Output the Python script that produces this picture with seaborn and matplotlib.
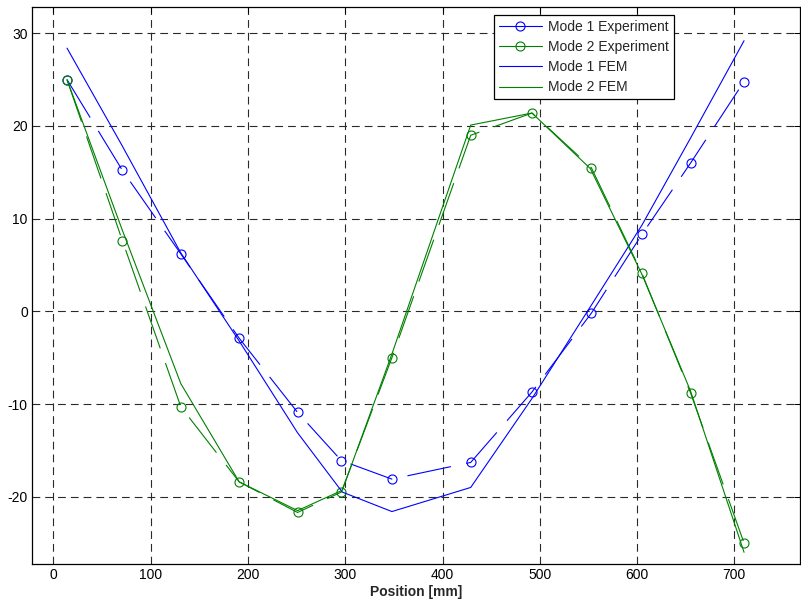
import matplotlib
matplotlib.use("Agg")
import numpy as np
import pandas as pd
import seaborn as sns
import matplotlib.pyplot as plt
from matplotlib.lines import Line2D

# ---- data ----
positions_exp = [14, 71, 131, 191, 251, 296, 348, 429, 492, 553, 605, 655, 710]
mode1_exp = [25.0, 15.2, 6.2, -2.9, -10.9, -16.1, -18.1, -16.3, -8.7, -0.2, 8.3, 16.0, 24.8]
mode2_exp = [25.0, 7.6, -10.3, -18.4, -21.7, -19.5, -5.0, 19.0, 21.4, 15.5, 4.1, -8.8, -25.0]

positions_fem = [14, 70, 131, 191, 251, 297, 348, 429, 492, 552, 605, 655, 710]
mode1_fem = [28.4, 18.0, 6.3, -3.2, -13.1, -19.5, -21.6, -19.0, -9.4, 0.5, 9.3, 18.7, 29.2]
mode2_fem = [25.0, 9.0, -7.8, -18.4, -21.5, -19.3, -4.6, 20.1, 21.4, 15.4, 4.0, -8.6, -26.0]

labels = ["Mode 1 Experiment", "Mode 2 Experiment", "Mode 1 FEM", "Mode 2 FEM"]
x_ticks = [0, 100, 200, 300, 400, 500, 600, 700]
y_ticks = [-20, -10, 0, 10, 20, 30]

sns.set_style("white")
plt.rcParams['font.family'] = ['Liberation Sans', 'DejaVu Sans']
plt.rcParams['font.size'] = 10
plt.rcParams['axes.unicode_minus'] = False

fig = plt.figure(figsize=(8.01, 6.04), dpi=100)
ax = fig.add_axes([32 / 801, 1 - 564 / 604, 767.5 / 801, 557 / 604])

blue = (0, 0, 1)
green = (0, 0.5, 0)
dash = (0, (40, 14))

exp_kw = dict(marker='o', markersize=6.5, markerfacecolor='none', markeredgewidth=0.8,
              linestyle=dash, linewidth=0.8, sort=False, estimator=None, legend=False)
sns.lineplot(x=positions_exp, y=mode1_exp, ax=ax, color=blue, markeredgecolor=blue, **exp_kw)
sns.lineplot(x=positions_exp, y=mode2_exp, ax=ax, color=green, markeredgecolor=green, **exp_kw)
fem_kw = dict(linewidth=0.8, sort=False, estimator=None, legend=False)
sns.lineplot(x=positions_fem, y=mode1_fem, ax=ax, color=blue, **fem_kw)
sns.lineplot(x=positions_fem, y=mode2_fem, ax=ax, color=green, **fem_kw)

ax.set_xlim(-22, 767)
ax.set_ylim(-27.26, 32.84)
ax.set_xticks(x_ticks)
ax.set_yticks(y_ticks)
ax.set_xlabel("Position [mm]", fontweight='bold', fontsize=10, labelpad=2)
ax.set_ylabel("")

ax.grid(True, color='#2a2a2a', linestyle=(0, (7, 4.5)), linewidth=0.8)
ax.tick_params(direction='in', length=4.5, width=0.75, top=True, right=True,
               labelsize=10, pad=3, colors='black')
for s in ax.spines.values():
    s.set_visible(True)
    s.set_color('black')
    s.set_linewidth(0.9)

handles = [
    Line2D([], [], color=blue, marker='o', markersize=6.5, markerfacecolor='none',
           markeredgecolor=blue, markeredgewidth=0.8, linewidth=0.8),
    Line2D([], [], color=green, marker='o', markersize=6.5, markerfacecolor='none',
           markeredgecolor=green, markeredgewidth=0.8, linewidth=0.8),
    Line2D([], [], color=blue, linewidth=0.8),
    Line2D([], [], color=green, linewidth=0.8),
]
leg = ax.legend(handles, labels, loc='upper right', bbox_to_anchor=(0.836, 0.986),
                borderaxespad=0, fancybox=False, framealpha=1, edgecolor='black',
                fontsize=10, handlelength=3.1, handletextpad=0.45, labelspacing=0.45,
                borderpad=0.35)
leg.get_frame().set_linewidth(0.9)

fig.savefig("out.png", dpi=100)
